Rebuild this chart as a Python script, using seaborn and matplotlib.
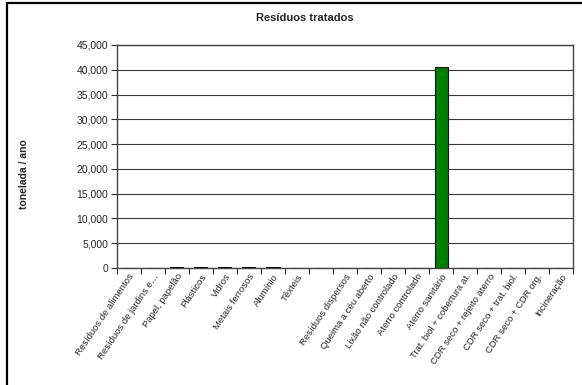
import matplotlib
matplotlib.use("Agg")
import matplotlib.pyplot as plt
from matplotlib.patches import Rectangle
from matplotlib.ticker import FixedLocator, FuncFormatter
import seaborn as sns
import pandas as pd

categorias = [
    "Resíduos de alimentos", "Resíduos de jardins e…", "Papel, papelão",
    "Plásticos", "Vidros", "Metais ferrosos", "Alumínio", "Têxteis", " ",
    "Resíduos dispersos", "Queima a céu aberto", "Lixão não controlado",
    "Aterro controlado", "Aterro sanitário", "Trat. biol + cobertura at.",
    "CDR seco + rejeito aterro", "CDR seco + trat. biol.",
    "CDR seco + CDR org.", "Incineração",
]
toneladas = [0, 0, 250, 200, 200, 200, 200, 0, 0,
             0, 0, 0, 0, 40500, 0, 0, 0, 0, 0]
yticks = [0, 5000, 10000, 15000, 20000, 25000, 30000, 35000, 40000, 45000]

sns.set_style("white")
plt.rcParams["font.family"] = ["Liberation Sans", "DejaVu Sans"]
plt.rcParams["font.size"] = 7.5

df = pd.DataFrame({"categoria": categorias, "toneladas": toneladas})

fig = plt.figure(figsize=(5.82, 3.85), dpi=100)
ax = fig.add_axes([116.7 / 582, 1 - 268 / 385, 456.6 / 582, 223 / 385])

sns.barplot(data=df, x="categoria", y="toneladas", order=categorias,
            color="#008000", saturation=1, width=0.55,
            edgecolor="#111111", linewidth=0.8, ax=ax, zorder=3)

ax.set_ylim(0, 45000)
ax.set_xlim(-0.5, len(categorias) - 0.5)
ax.set_yticks(yticks)
ax.yaxis.set_major_formatter(FuncFormatter(lambda v, p: f"{int(v):,}"))
ax.yaxis.grid(True, color="#3a3a3a", linewidth=0.8, zorder=0)
ax.set_axisbelow(True)

ax.tick_params(axis="y", direction="out", length=4, width=0.8,
               color="#333333", labelsize=7.5, pad=2, left=True)
ax.tick_params(axis="x", which="major", length=0, pad=3)
ax.xaxis.set_minor_locator(FixedLocator([i - 0.5 for i in range(len(categorias) + 1)]))
ax.tick_params(axis="x", which="minor", direction="out", length=4, width=0.8,
               color="#333333", bottom=True)
ax.set_xticks(range(len(categorias)))
ax.set_xticklabels(categorias, rotation=56, ha="right",
                   rotation_mode="anchor", fontsize=6.8)

for s in ax.spines.values():
    s.set_visible(True)
    s.set_color("#444444")
    s.set_linewidth(1.0)

ax.set_xlabel("")
ax.set_ylabel("tonelada / ano", fontsize=7.5, fontweight="bold")
ax.yaxis.set_label_coords((29 - 116.7) / 456.6, (268 - 174) / 223)

fig.text(305 / 582, 1 - 18 / 385, "Resíduos tratados", ha="center",
         va="center", fontsize=8, fontweight="bold")

fig.patches.append(Rectangle((6.5 / 582, -0.1), 1.2, (382 / 385) + 0.1,
                             transform=fig.transFigure, fill=False,
                             edgecolor="black", linewidth=1.6))

fig.savefig("out.png", dpi=100)
